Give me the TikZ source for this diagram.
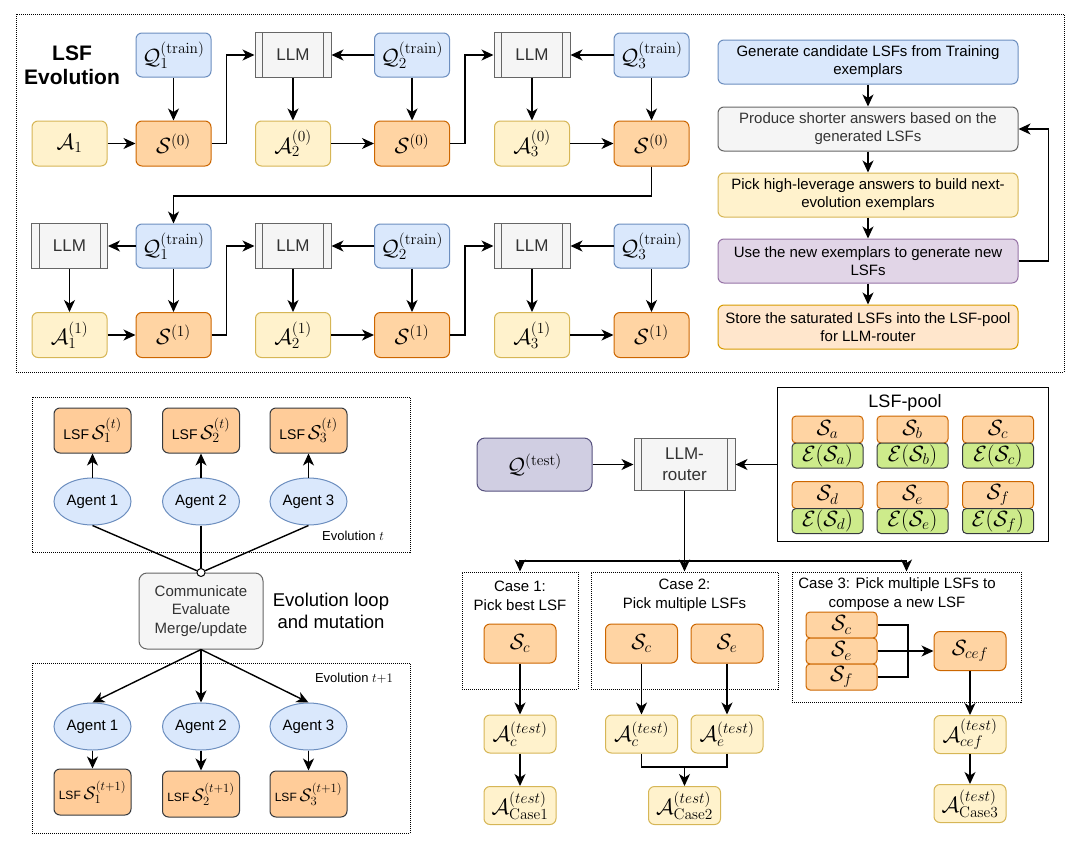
\documentclass[tikz,border=0pt]{standalone}
\usepackage{fix-cm}
\usepackage[no-math]{fontspec}
\setmainfont{Liberation Sans}
\usetikzlibrary{arrows.meta,calc,shapes.geometric}
\definecolor{bluef}{HTML}{DAE8FC}\definecolor{bluel}{HTML}{6C8EBF}
\definecolor{yelf}{HTML}{FFF2CC}\definecolor{yell}{HTML}{D6B656}
\definecolor{orf}{HTML}{FFD4A3}\definecolor{orl}{HTML}{CC6600}
\definecolor{ortf}{HTML}{FFE6CC}\definecolor{ortl}{HTML}{D79B00}
\definecolor{grf}{HTML}{F5F5F5}\definecolor{grl}{HTML}{666666}\definecolor{grt}{HTML}{333333}
\definecolor{puf}{HTML}{E1D5E7}\definecolor{pul}{HTML}{9673A6}
\definecolor{gnf}{HTML}{CDEB8B}\definecolor{dkl}{HTML}{36393D}
\definecolor{lsff}{HTML}{FFCC99}
\definecolor{qtf}{HTML}{D0CEE2}\definecolor{qtl}{HTML}{56517E}
\newcommand\mfs{\fontsize{22}{24}\selectfont}
\newcommand\tfs{\fontsize{15}{18}\selectfont}
\tikzset{
 every node/.style={inner sep=0pt, align=center},
 ln/.style={line width=1.4pt},
 arr/.style={ln, -{Stealth[length=12pt,width=11pt,inset=3.5pt]}},
 rbox/.style={draw, line width=1pt, rounded corners=6pt},
 qnode/.style={rbox, fill=bluef, draw=bluel, minimum width=75pt, minimum height=44pt, font=\mfs},
 anode/.style={rbox, fill=yelf, draw=yell, minimum width=75pt, minimum height=45pt, font=\mfs},
 snode/.style={rbox, fill=orf, draw=orl, minimum width=75pt, minimum height=45pt, font=\mfs},
 llm/.style={draw=grl, fill=grf, line width=1pt, minimum width=76pt, minimum height=45pt,
   text=grt, font=\fontsize{17}{21}\selectfont,
   path picture={\draw[grl, line width=1pt] ([xshift=7.5pt]path picture bounding box.north west) -- ([xshift=7.5pt]path picture bounding box.south west);
     \draw[grl, line width=1pt] ([xshift=-7.5pt]path picture bounding box.north east) -- ([xshift=-7.5pt]path picture bounding box.south east);}},
 flow/.style={rbox, minimum width=300pt, minimum height=44pt, font=\tfs},
 dotbox/.style={draw, line width=1pt, dash pattern=on 1pt off 1pt},
 lsfnode/.style={rbox, fill=lsff, draw=dkl, minimum width=77pt, minimum height=45pt},
 agent/.style={ellipse, draw=bluel, fill=bluef, line width=1pt, minimum width=77pt, minimum height=47pt, font=\tfs},
 poolS/.style={draw=orl, fill=orf, line width=1pt, rounded corners=4pt, minimum width=71pt, minimum height=27pt, font=\mfs},
 poolE/.style={draw=dkl, fill=gnf, line width=1pt, rounded corners=4pt, minimum width=71pt, minimum height=25pt, font=\mfs},
 cS/.style={rbox, fill=orf, draw=orl, minimum width=72pt, minimum height=39pt, font=\mfs},
 cA/.style={rbox, fill=yelf, draw=yell, minimum width=72pt, minimum height=38pt, font=\mfs},
 stk/.style={draw=orl, fill=orf, line width=1pt, rounded corners=4pt, minimum width=71pt, minimum height=26pt, font=\mfs},
}
\begin{document}
\begin{tikzpicture}[x=1pt,y=-1pt]
\useasboundingbox (0,0) rectangle (1080,849);
% ================= top section
\draw[dotbox] (16,14) rectangle (1064,372);
\node[font=\fontsize{21}{24}\bfseries\selectfont] (title) at (72,65) {LSF\\Evolution};
\def\ca{69.5}\def\cb{173.5}\def\cc{293}\def\cd{412}\def\ce{532}\def\cf{651.5}
\def\ra{55}\def\rb{143.5}\def\rc{246}\def\rd{335}
% row 1
\node[qnode] (q1) at (\cb,\ra) {$\mathcal{Q}_1^{(\mathrm{train})}$};
\node[llm] (la) at (\cc,\ra) {LLM};
\node[qnode] (q2) at (\cd,\ra) {$\mathcal{Q}_2^{(\mathrm{train})}$};
\node[llm] (lb) at (\ce,\ra) {LLM};
\node[qnode] (q3) at (\cf,\ra) {$\mathcal{Q}_3^{(\mathrm{train})}$};
% row 2
\node[anode] (a1) at (\ca,\rb) {$\mathcal{A}_1$};
\node[snode] (s01) at (\cb,\rb) {$\mathcal{S}^{(0)}$};
\node[anode] (a20) at (\cc,\rb) {$\mathcal{A}_2^{(0)}$};
\node[snode] (s02) at (\cd,\rb) {$\mathcal{S}^{(0)}$};
\node[anode] (a30) at (\ce,\rb) {$\mathcal{A}_3^{(0)}$};
\node[snode] (s03) at (\cf,\rb) {$\mathcal{S}^{(0)}$};
% row 3
\node[llm] (lc) at (\ca,\rc) {LLM};
\node[qnode] (q1b) at (\cb,\rc) {$\mathcal{Q}_1^{(\mathrm{train})}$};
\node[llm] (ld) at (\cc,\rc) {LLM};
\node[qnode] (q2b) at (\cd,\rc) {$\mathcal{Q}_2^{(\mathrm{train})}$};
\node[llm] (le) at (\ce,\rc) {LLM};
\node[qnode] (q3b) at (\cf,\rc) {$\mathcal{Q}_3^{(\mathrm{train})}$};
% row 4
\node[anode] (a11) at (\ca,\rd) {$\mathcal{A}_1^{(1)}$};
\node[snode] (s11) at (\cb,\rd) {$\mathcal{S}^{(1)}$};
\node[anode] (a21) at (\cc,\rd) {$\mathcal{A}_2^{(1)}$};
\node[snode] (s12) at (\cd,\rd) {$\mathcal{S}^{(1)}$};
\node[anode] (a31) at (\ce,\rd) {$\mathcal{A}_3^{(1)}$};
\node[snode] (s13) at (\cf,\rd) {$\mathcal{S}^{(1)}$};
% edges rows 1-2
\draw[arr] (q1) -- (s01);
\draw[arr] (a1) -- (s01);
\draw[arr] (s01.east) -- ++(15,0) |- (la.west);
\draw[arr] (q2) -- (la);
\draw[arr] (la) -- (a20);
\draw[arr] (a20) -- (s02);
\draw[arr] (q2) -- (s02);
\draw[arr] (s02.east) -- ++(15,0) |- (lb.west);
\draw[arr] (q3) -- (lb);
\draw[arr] (lb) -- (a30);
\draw[arr] (a30) -- (s03);
\draw[arr] (q3) -- (s03);
\coordinate (wrap) at (\cf,196);
\draw[arr] (s03.south) -- (wrap) -| (q1b.north);
% edges rows 3-4
\draw[arr] (q1b) -- (lc);
\draw[arr] (lc) -- (a11);
\draw[arr] (a11) -- (s11);
\draw[arr] (q1b) -- (s11);
\draw[arr] (s11.east) -- ++(15,0) |- (ld.west);
\draw[arr] (q2b) -- (ld);
\draw[arr] (ld) -- (a21);
\draw[arr] (a21) -- (s12);
\draw[arr] (q2b) -- (s12);
\draw[arr] (s12.east) -- ++(15,0) |- (le.west);
\draw[arr] (q3b) -- (le);
\draw[arr] (le) -- (a31);
\draw[arr] (a31) -- (s13);
\draw[arr] (q3b) -- (s13);
% flowchart
\node[flow, fill=bluef, draw=bluel] (f1) at (868,62) {Generate candidate LSFs from Training\\exemplars};
\node[flow, fill=grf, draw=grl, text=grt] (f2) at (868,129) {Produce shorter answers based on the\\generated LSFs};
\node[flow, fill=yelf, draw=yell] (f3) at (868,195) {Pick high-leverage answers to build next-\\evolution exemplars};
\node[flow, fill=puf, draw=pul] (f4) at (868,261) {Use the new exemplars to generate new\\LSFs};
\node[flow, fill=ortf, draw=ortl] (f5) at (868,327) {Store the saturated LSFs into the LSF-pool\\for LLM-router};
\draw[arr] (f1) -- (f2);
\draw[arr] (f2) -- (f3);
\draw[arr] (f3) -- (f4);
\draw[arr] (f4) -- (f5);
\draw[arr] (f4.east) -- ++(30,0) |- (f2.east);
% ================= bottom left
\draw[dotbox] (32,397) rectangle (410,552);
\draw[dotbox] (32,663) rectangle (410,833);
\node[lsfnode] (t1) at (92.5,430.5) {{\fontsize{14}{16}\selectfont LSF} {\fontsize{20}{22}\selectfont$\mathcal{S}_1^{(t)}$}};
\node[lsfnode] (t2) at (201,430.5) {{\fontsize{14}{16}\selectfont LSF} {\fontsize{20}{22}\selectfont$\mathcal{S}_2^{(t)}$}};
\node[lsfnode] (t3) at (308.5,430.5) {{\fontsize{14}{16}\selectfont LSF} {\fontsize{20}{22}\selectfont$\mathcal{S}_3^{(t)}$}};
\node[agent] (g1) at (92.5,501.5) {Agent 1};
\node[agent] (g2) at (201,501.5) {Agent 2};
\node[agent] (g3) at (308.5,501.5) {Agent 3};
\draw[arr] (g1) -- (t1);
\draw[arr] (g2) -- (t2);
\draw[arr] (g3) -- (t3);
\node[font=\fontsize{13}{15}\selectfont] (evt) at (353,536) {Evolution $t$};
\node[rbox, fill=grf, draw=grl, text=grt, minimum width=124pt, minimum height=76pt, rounded corners=8pt, font=\fontsize{15}{18.5}\selectfont] (comm) at (201,611) {Communicate\\Evaluate\\Merge/update};
\node[circle, draw, fill=white, line width=1pt, minimum size=8pt] (circ) at (comm.north) {};
\draw[ln] (g1.south) -- (circ);
\draw[ln] (g2.south) -- (circ);
\draw[ln] (g3.south) -- (circ);
\node[font=\fontsize{18.5}{22}\selectfont] (loop) at (331,611) {Evolution loop\\and mutation};
\node[font=\fontsize{13}{15}\selectfont] (evt1) at (354,678) {Evolution $t{+}1$};
\node[agent] (h1) at (92.5,726.5) {Agent 1};
\node[agent] (h2) at (201,726.5) {Agent 2};
\node[agent] (h3) at (308.5,726.5) {Agent 3};
\draw[arr] (comm.south) -- (h1.north);
\draw[arr] (comm.south) -- (h2.north);
\draw[arr] (comm.south) -- (h3.north);
\node[lsfnode, minimum height=46pt] (u1) at (92.5,792) {{\fontsize{12}{14}\selectfont LSF} {\fontsize{18}{20}\selectfont$\mathcal{S}_1^{(t+1)}$}};
\node[lsfnode, minimum height=46pt] (u2) at (201,794) {{\fontsize{12}{14}\selectfont LSF} {\fontsize{18}{20}\selectfont$\mathcal{S}_2^{(t+1)}$}};
\node[lsfnode, minimum height=46pt] (u3) at (308.5,794) {{\fontsize{12}{14}\selectfont LSF} {\fontsize{18}{20}\selectfont$\mathcal{S}_3^{(t+1)}$}};
\draw[arr] (h1) -- (u1);
\draw[arr] (h2) -- (u2);
\draw[arr] (h3) -- (u3);
% ================= bottom right
\node[rbox, fill=qtf, draw=qtl, rounded corners=8pt, minimum width=115pt, minimum height=53pt, font=\mfs] (qt) at (534.5,464.5) {$\mathcal{Q}^{(\mathrm{test})}$};
\node[llm, minimum width=101pt, minimum height=52pt] (router) at (684.5,464.5) {LLM-\\router};
\node[draw, line width=1pt, minimum width=271pt, minimum height=154pt] (pool) at (912.5,464.5) {};
\node[font=\fontsize{18}{20}\selectfont] (pooltitle) at (905,403) {LSF-pool};
\node[poolS] (pa) at (827.5,429.5) {$\mathcal{S}_a$};
\node[poolE] (ea) at (827.5,455.5) {$\mathcal{E}(\mathcal{S}_a)$};
\node[poolS] (pb) at (912.5,429.5) {$\mathcal{S}_b$};
\node[poolE] (eb) at (912.5,455.5) {$\mathcal{E}(\mathcal{S}_b)$};
\node[poolS] (pc) at (998,429.5) {$\mathcal{S}_c$};
\node[poolE] (ec) at (998,455.5) {$\mathcal{E}(\mathcal{S}_c)$};
\node[poolS] (pd) at (827.5,495) {$\mathcal{S}_d$};
\node[poolE] (ed) at (827.5,521) {$\mathcal{E}(\mathcal{S}_d)$};
\node[poolS] (pe) at (912.5,495) {$\mathcal{S}_e$};
\node[poolE] (ee) at (912.5,521) {$\mathcal{E}(\mathcal{S}_e)$};
\node[poolS] (pf) at (998,495) {$\mathcal{S}_f$};
\node[poolE] (ef) at (998,521) {$\mathcal{E}(\mathcal{S}_f)$};
\draw[arr] (qt) -- (router);
\draw[arr] (pool.west) -- (router.east);
% cases
\node[dotbox, minimum width=116pt, minimum height=117pt] (case1) at (520,630.5) {};
\node[dotbox, minimum width=187pt, minimum height=117pt] (case2) at (684.5,630.5) {};
\node[dotbox, minimum width=229pt, minimum height=130pt] (case3) at (906.5,637) {};
\coordinate (split) at (684.5,561);
\draw[arr] (router.south) -- (case2.north);
\draw[arr] (split) -| (case1.north);
\draw[arr] (split) -| (case3.north);
\node[font=\fontsize{15}{19}\selectfont] (c1t) at (520,595.5) {Case 1:\\Pick best LSF};
\node[font=\fontsize{15}{19}\selectfont] (c2t) at (684.5,595.5) {Case 2:\\Pick multiple LSFs};
\node[font=\fontsize{15}{18.5}\selectfont] (c3t) at (897,594) {Case 3: Pick multiple LSFs to\\compose a new LSF};
% case 1
\node[cS] (c1s) at (520,643.5) {$\mathcal{S}_c$};
\node[cA] (c1a) at (520,734) {$\mathcal{A}_c^{(test)}$};
\node[cA] (c1f) at (520,805.5) {$\mathcal{A}_{\mathrm{Case1}}^{(test)}$};
\draw[arr] (c1s) -- (c1a);
\draw[arr] (c1a) -- (c1f);
% case 2
\node[cS] (c2s) at (641.5,643.5) {$\mathcal{S}_c$};
\node[cS] (c2e) at (727,643.5) {$\mathcal{S}_e$};
\node[cA] (c2a) at (641.5,734) {$\mathcal{A}_c^{(test)}$};
\node[cA] (c2b) at (727,734) {$\mathcal{A}_e^{(test)}$};
\node[cA] (c2f) at (684.5,805.5) {$\mathcal{A}_{\mathrm{Case2}}^{(test)}$};
\draw[arr] (c2s) -- (c2a);
\draw[arr] (c2e) -- (c2b);
\coordinate (m2) at (684.5,767);
\draw[ln] (c2a.south) |- (m2);
\draw[ln] (c2b.south) |- (m2);
\draw[arr] (m2) -- (c2f.north);
% case 3
\node[stk] (k1) at (841.5,625) {$\mathcal{S}_c$};
\node[stk] (k2) at (841.5,651) {$\mathcal{S}_e$};
\node[stk] (k3) at (841.5,677) {$\mathcal{S}_f$};
\node[cS] (cef) at (970,651) {$\mathcal{S}_{cef}$};
\coordinate (j3) at (908,651);
\draw[ln] (k1.east) -| (j3);
\draw[ln] (k3.east) -| (j3);
\draw[arr] (k2.east) -- (cef.west);
\node[cA] (c3a) at (970,734.5) {$\mathcal{A}_{cef}^{(test)}$};
\node[cA] (c3f) at (970,803.5) {$\mathcal{A}_{\mathrm{Case3}}^{(test)}$};
\draw[arr] (cef) -- (c3a);
\draw[arr] (c3a) -- (c3f);
\end{tikzpicture}
\end{document}
